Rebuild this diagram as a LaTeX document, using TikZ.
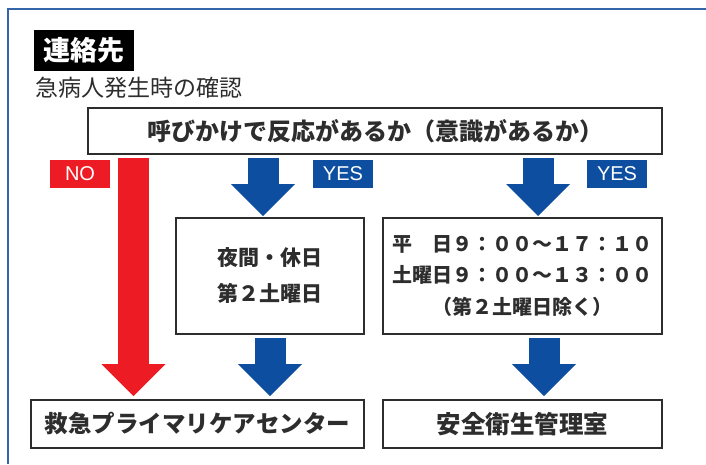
\documentclass[tikz,border=0pt]{standalone}
\usepackage{fontspec}
\setmainfont{Noto Sans CJK JP}
\newfontfamily\tagfont{Liberation Sans}
\usetikzlibrary{arrows.meta,positioning}

\definecolor{nored}{RGB}{237,28,36}
\definecolor{yesblue}{RGB}{13,78,160}
\definecolor{frameblue}{RGB}{52,100,170}
\definecolor{boxgray}{RGB}{45,45,45}

\begin{document}
\begin{tikzpicture}[x=1pt,y=-1pt,node distance=19pt]
   \tikzstyle{box}=[draw=boxgray,line width=1.5pt,inner sep=0pt,outer sep=0pt,align=center,text=boxgray]
   \tikzstyle{tag}=[inner sep=0pt,minimum width=60pt,minimum height=28pt,text=white,font=\tagfont\fontsize{20}{20}\selectfont]
   \tikzstyle{go}=[line width=31pt,shorten <=4pt,shorten >=4pt,-{Triangle[width=64pt,length=32pt,line width=0pt]}]

   \useasboundingbox (0,0) rectangle (706,464);
   \draw[frameblue,line width=1.5pt] (8,464) -- (8,9) -- (706,9);

   \node[fill=black,text=white,inner sep=0pt,minimum width=100pt,minimum height=41pt,
         font=\bfseries\fontsize{27}{27}\selectfont] (T) at (84,50.5) {連絡先};
   \node[anchor=west,inner sep=0pt,text=boxgray,font=\fontsize{23}{23}\selectfont] (U) at (35,88) {急病人発生時の確認};

   \node[box,minimum width=574pt,minimum height=46pt,font=\bfseries\fontsize{24}{24}\selectfont] (Q) at (375,131)
        {呼びかけで反応があるか（意識があるか）};
   \node[box,minimum width=188pt,minimum height=116pt,font=\bfseries\fontsize{21}{36}\selectfont]
        (M) [below right=64pt and 88pt of Q.south west,anchor=north west] {夜間・休日\\第２土曜日};
   \node[box,minimum width=279pt,minimum height=116pt,font=\bfseries\fontsize{20}{31.5}\selectfont]
        (R) [right=19pt of M] {平　日９：００〜１７：１０\\土曜日９：００〜１３：００\\（第２土曜日除く）};
   \node[box,minimum width=333pt,minimum height=48pt,font=\bfseries\fontsize{23.5}{23.5}\selectfont]
        (C) [below=66pt of M.south east,anchor=north east] {救急プライマリケアセンター};
   \node[box,minimum width=279pt,minimum height=48pt,font=\bfseries\fontsize{24.5}{24.5}\selectfont]
        (S) [right=19pt of C] {安全衛生管理室};

   \node[tag,fill=nored]   (N)  at (80,174)  {NO};
   \node[tag,fill=yesblue] (Y1) at (343,174) {YES};
   \node[tag,fill=yesblue] (Y2) at (617,174) {YES};

   \draw[go,nored] ([xshift=45.5pt]Q.south west) -- ([xshift=45.5pt]Q.south west |- C.north);
   \draw[go,yesblue,shorten >=2pt] ([xshift=175pt]Q.south west) -- ([xshift=175pt]Q.south west |- M.north);
   \draw[go,yesblue,shorten >=2pt] ([xshift=450pt]Q.south west) -- ([xshift=450pt]Q.south west |- R.north);
   \draw[go,yesblue] (M.south) -- (M.south |- C.north);
   \draw[go,yesblue] ([xshift=161pt]R.south west) -- ([xshift=161pt]R.south west |- S.north);
\end{tikzpicture}
\end{document}
